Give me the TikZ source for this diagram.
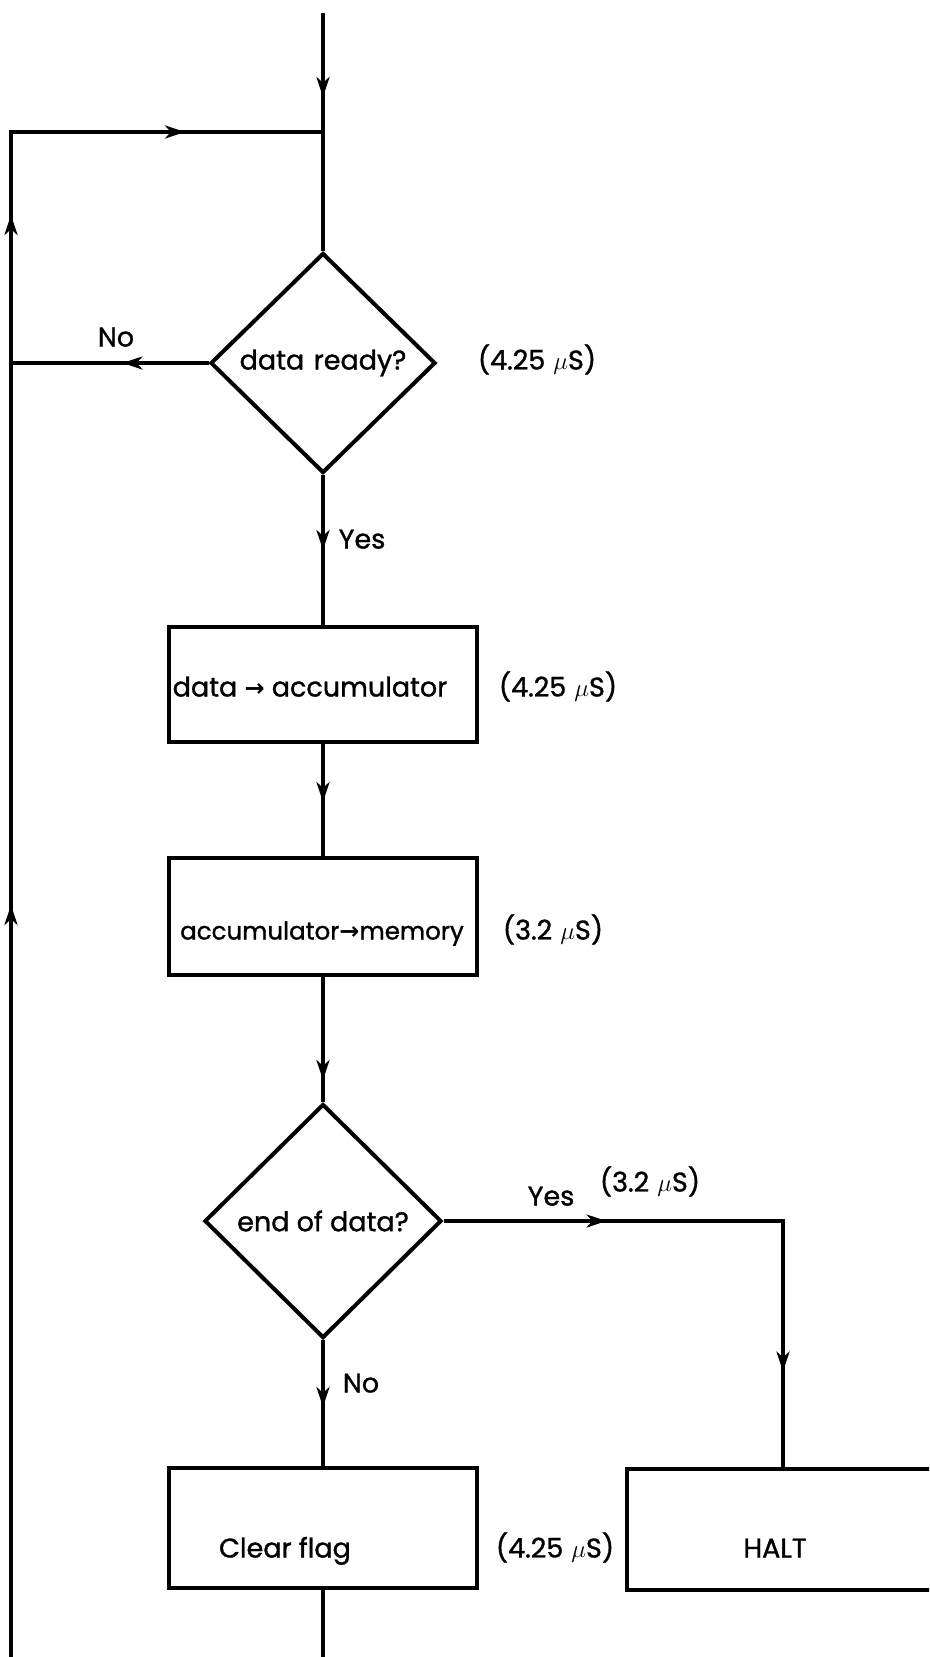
\documentclass[tikz,border=0pt]{standalone}
\usepackage{fontspec}
\setmainfont{Poppins}[FakeBold=1.2]
\newfontfamily\symfont{DejaVu Sans Bold}
\usetikzlibrary{shapes.geometric,arrows.meta,decorations.markings}
\tikzset{
  sth/.tip={Stealth[length=20pt,width=13pt,inset=6pt]},
  box/.style={draw,line width=4pt,minimum width=308pt,inner sep=0pt},
  dia/.style={draw,diamond,line width=4pt,inner sep=0pt},
  lbl/.style={inner sep=0pt,text height=19pt,text depth=6pt},
  conn/.style={line width=3.2pt},
  midarrow/.style={postaction={decorate},decoration={markings,mark=at position #1pt with {\arrow{sth}}}},
}
\newcommand{\txtarrow}{{\symfont\fontsize{24}{28}\selectfont →}}
\begin{document}
\begin{tikzpicture}[x=1pt,y=-1pt,font=\fontsize{27}{31}\selectfont]
\useasboundingbox (0,0) rectangle (929,1657);
\clip (0,0) rectangle (929,1657);
% coordinates
\coordinate (s0) at (323,13);
\coordinate (j1) at (323,132);
\coordinate (lt) at (11,132);
\coordinate (lb) at (11,1657);
\coordinate (l1) at (11,363);
\coordinate (c2) at (783,1221);
\coordinate (bot) at (323,1657);
% nodes
\node[dia,minimum width=225pt,minimum height=220pt] (d1) at (323,363) {data\hspace{0.35em}ready?};
\node[box,minimum height=115pt] (b1) at (323,684.5) {};
\node[box,minimum height=117pt] (b2) at (323,916.5) {};
\node[dia,minimum width=237pt,minimum height=234pt] (d2) at (323,1221) {end of data?};
\node[box,minimum height=120pt] (cf) at (323,1528) {};
\node[box,minimum width=312pt,minimum height=121pt] (halt) at (783,1529.5) {};
% texts
\node[lbl] (t1) at (310,690) {data \txtarrow{} accumulator};
\node[lbl,font=\fontsize{24.5}{29}\selectfont] (t2) at (322,933) {accumulator\txtarrow{}memory};
\node[lbl] (t3) at (285,1551) {Clear flag};
\node[lbl] (t4) at (775,1551) {HALT};
\node[lbl] (tm1) at (537,363) {(4.25\hspace{0.3em}$\mu$S)};
\node[lbl] (tm2) at (558,690) {(4.25\hspace{0.3em}$\mu$S)};
\node[lbl] (tm3) at (553,933) {(3.2\hspace{0.3em}$\mu$S)};
\node[lbl] (tm4) at (555,1551) {(4.25\hspace{0.3em}$\mu$S)};
\node[lbl] (tm5) at (650,1185) {(3.2\hspace{0.3em}$\mu$S)};
\node[lbl] (no1) at (116,340) {No};
\node[lbl] (yes1) at (362,542) {Yes};
\node[lbl] (yes2) at (551,1199) {Yes};
\node[lbl] (no2) at (361,1386) {No};
% connectors
\draw[conn,midarrow=84] (s0) -- (j1);
\draw[conn,postaction={decorate},decoration={markings,
  mark=at position 752pt with {\arrow{sth}},
  mark=at position 1442pt with {\arrow{sth}},
  mark=at position 1699pt with {\arrow{sth}}}] (lb) -- (lt) -- (j1);
\draw[conn] (j1) -- (d1.north);
\draw[conn,midarrow=86] (d1.west) -- (l1);
\draw[conn,midarrow=75] (d1.south) -- (b1.north);
\draw[conn,midarrow=58] (b1.south) -- (b2.north);
\draw[conn,midarrow=103] (b2.south) -- (d2.north);
\draw[conn,postaction={decorate},decoration={markings,
  mark=at position 163pt with {\arrow{sth}},
  mark=at position 490pt with {\arrow{sth}}}] (d2.east) -- (c2) -- (halt.north);
\draw[conn,midarrow=67] (d2.south) -- (cf.north);
\draw[conn] (cf.south) -- (bot);
\end{tikzpicture}
\end{document}
